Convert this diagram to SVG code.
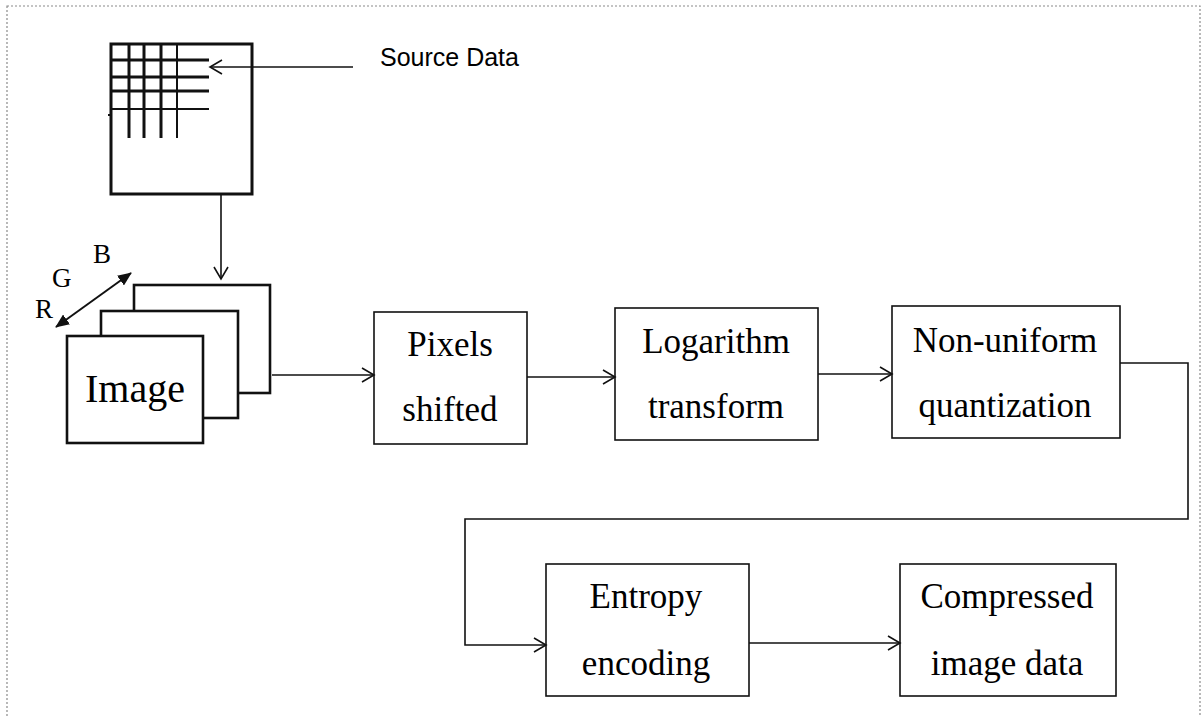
<svg xmlns="http://www.w3.org/2000/svg" width="1203" height="717" viewBox="0 0 1203 717">
  <style>
    .frame { fill: none; stroke: #8a8a8a; stroke-width: 1.2; stroke-dasharray: 2 2; }
    .box { fill: #fff; stroke: #111; stroke-width: 1.6; }
    .layer { fill: #fff; stroke: #111; stroke-width: 2.6; }
    .wire { fill: none; stroke: #111; stroke-width: 1.6; }
    .grid { stroke: #111; stroke-width: 3; }
    .grid-thin { stroke: #111; stroke-width: 2; }
    .lbl { font-family: "Liberation Serif", "Times New Roman", serif; font-size: 35px; fill: #000; text-anchor: middle; }
    .rgb { font-family: "Liberation Serif", "Times New Roman", serif; font-size: 27px; fill: #000; }
    .note { font-family: "Liberation Sans", Arial, sans-serif; font-size: 25px; fill: #000; }
  </style>
  <defs>
    <marker id="open" markerUnits="userSpaceOnUse" markerWidth="16" markerHeight="18" viewBox="0 0 16 18" refX="14" refY="9" orient="auto">
      <path d="M2,2 L14,9 L2,16" fill="none" stroke="#111" stroke-width="1.6"/>
    </marker>
    <marker id="solid" markerUnits="userSpaceOnUse" markerWidth="14" markerHeight="12" viewBox="0 0 14 12" refX="13" refY="6" orient="auto-start-reverse">
      <path d="M0,0 L14,6 L0,12 Z" fill="#111"/>
    </marker>
  </defs>

  <rect class="frame" x="7" y="6" width="1193" height="720"/>

  <!-- source data grid -->
  <g id="source">
    <rect x="111" y="44" width="141" height="150" fill="#fff" stroke="#111" stroke-width="3"/>
    <line class="grid" x1="129" y1="44" x2="129" y2="138"/>
    <line class="grid" x1="144" y1="44" x2="144" y2="138"/>
    <line class="grid" x1="161" y1="44" x2="161" y2="138"/>
    <line class="grid-thin" x1="177" y1="44" x2="177" y2="138"/>
    <line class="grid" x1="111" y1="60" x2="209" y2="60"/>
    <line class="grid" x1="111" y1="77" x2="209" y2="77"/>
    <line class="grid" x1="111" y1="91" x2="209" y2="91"/>
    <line class="grid-thin" x1="111" y1="109" x2="209" y2="109"/>
    <line x1="108" y1="115" x2="111" y2="115" stroke="#111" stroke-width="2"/>
  </g>

  <g id="source-label">
    <text class="note" x="380" y="66">Source Data</text>
  </g>

  <!-- RGB image planes -->
  <g id="image">
    <rect class="layer" x="134" y="285" width="136" height="108"/>
    <rect class="layer" x="101" y="311" width="137" height="107"/>
    <rect class="layer" x="67" y="336" width="136" height="107"/>
    <text x="135" y="402" font-family="'Liberation Serif', 'Times New Roman', serif" font-size="40" text-anchor="middle">Image</text>
  </g>

  <g id="rgb-axis">
    <line x1="56" y1="327" x2="131" y2="273" stroke="#111" stroke-width="2" marker-start="url(#solid)" marker-end="url(#solid)"/>
    <text class="rgb" x="35" y="318">R</text>
    <text class="rgb" x="52" y="287">G</text>
    <text class="rgb" x="93" y="263">B</text>
  </g>

  <g id="pixels">
    <rect class="box" x="374" y="312" width="153" height="132"/>
    <text class="lbl" x="450" y="356">Pixels</text>
    <text class="lbl" x="450" y="421">shifted</text>
  </g>

  <g id="logarithm">
    <rect class="box" x="615" y="308" width="203" height="132"/>
    <text class="lbl" x="716" y="353">Logarithm</text>
    <text class="lbl" x="716" y="418">transform</text>
  </g>

  <g id="quantization">
    <rect class="box" x="892" y="306" width="228" height="132"/>
    <text class="lbl" x="1005" y="352">Non-uniform</text>
    <text class="lbl" x="1005" y="417">quantization</text>
  </g>

  <g id="entropy">
    <rect class="box" x="546" y="564" width="203" height="132"/>
    <text class="lbl" x="646" y="608">Entropy</text>
    <text class="lbl" x="646" y="675">encoding</text>
  </g>

  <g id="compressed">
    <rect class="box" x="900" y="564" width="216" height="132"/>
    <text class="lbl" x="1007" y="608">Compressed</text>
    <text class="lbl" x="1007" y="675">image data</text>
  </g>

  <g id="connectors">
    <line class="wire" x1="353" y1="67" x2="210" y2="67" marker-end="url(#open)"/>
    <line class="wire" x1="221" y1="194" x2="221" y2="279" marker-end="url(#open)"/>
    <line class="wire" x1="272" y1="375" x2="374" y2="375" marker-end="url(#open)"/>
    <line class="wire" x1="527" y1="377" x2="615" y2="377" marker-end="url(#open)"/>
    <line class="wire" x1="818" y1="374" x2="892" y2="374" marker-end="url(#open)"/>
    <polyline class="wire" points="1120,363 1188,363 1188,519 465,519 465,645 546,645" marker-end="url(#open)"/>
    <line class="wire" x1="749" y1="643" x2="900" y2="643" marker-end="url(#open)"/>
  </g>
</svg>
